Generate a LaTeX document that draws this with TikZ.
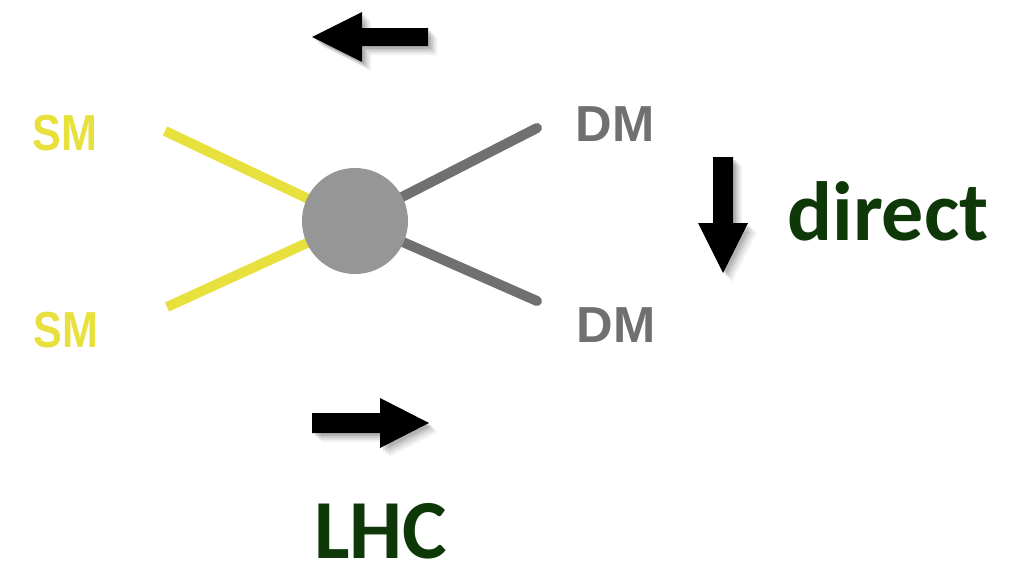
\documentclass[tikz,border=0pt]{standalone}
\usepackage{fontspec}
\setmainfont{Liberation Sans}
\newfontfamily\labelfont{Carlito}
\usetikzlibrary{backgrounds}
\definecolor{smyellow}{RGB}{232,224,60}
\definecolor{dmgray}{RGB}{112,112,112}
\definecolor{blobgray}{RGB}{150,150,150}
\definecolor{titlegreen}{RGB}{14,56,8}
\tikzset{
  smline/.style={draw=smyellow, line width=7.5pt},
  dmline/.style={draw=dmgray, line width=7.5pt, line cap=round},
  blob/.style={circle, fill=blobgray, minimum size=79.5pt, inner sep=0pt},
  smlabel/.style={inner sep=0pt, text=smyellow, font=\bfseries\fontsize{38}{40}\selectfont, xscale=0.85},
  dmlabel/.style={inner sep=0pt, text=dmgray, font=\bfseries\fontsize{38}{40}\selectfont},
  bigword/.style={inner sep=0pt, text=titlegreen, font=\labelfont\bfseries\fontsize{63}{65}\selectfont},
  arrowfill/.style={fill=black},
}
% arrow with a soft shadow to the lower right
\newcommand{\shadedarrow}[1]{%
  \foreach \d/\o in {9/0.05,7/0.07,5/0.09,3/0.12}{
    \fill[black, opacity=\o, shift={(\d*0.75pt,-\d*0.75pt)}] #1 -- cycle;
  }
  \fill[arrowfill] #1 -- cycle;
}
\begin{document}
\begin{tikzpicture}[x=0.75pt, y=-0.75pt]
\path[use as bounding box] (0,0) rectangle (1023,571);

% vertex and leg end points
\node[blob] (v) at (355,221) {};
\coordinate (sm1) at (165,131);
\coordinate (sm2) at (167,307);
\coordinate (dm1) at (537,128);
\coordinate (dm2) at (537,301);

% legs drawn beneath the vertex
\begin{scope}[on background layer]
\draw[smline] (sm1) -- (v.center);
\draw[smline] (sm2) -- (v.center);
\draw[dmline] (dm1) -- (v.center);
\draw[dmline] (dm2) -- (v.center);
\end{scope}

% particle labels
\node[smlabel] (smA) at (65,133) {SM};
\node[smlabel] (smB) at (66,330) {SM};
\node[dmlabel] (dmA) at (615,124) {DM};
\node[dmlabel] (dmB) at (616,325) {DM};

% direction arrows
\shadedarrow{(428,28) -- (362,28) -- (362,12) -- (312,37) -- (362,62) -- (362,46) -- (428,46)}
\shadedarrow{(312,413) -- (380,413) -- (380,398) -- (429,423) -- (380,448) -- (380,433) -- (312,433)}
\shadedarrow{(713,157) -- (733,157) -- (733,223) -- (748,223) -- (723,273) -- (698,223) -- (713,223)}

% channel names
\node[bigword, anchor=base west] (direct) at (787,240) {direct};
\node[bigword, anchor=base west] (lhc) at (314,558) {LHC};
\end{tikzpicture}
\end{document}
